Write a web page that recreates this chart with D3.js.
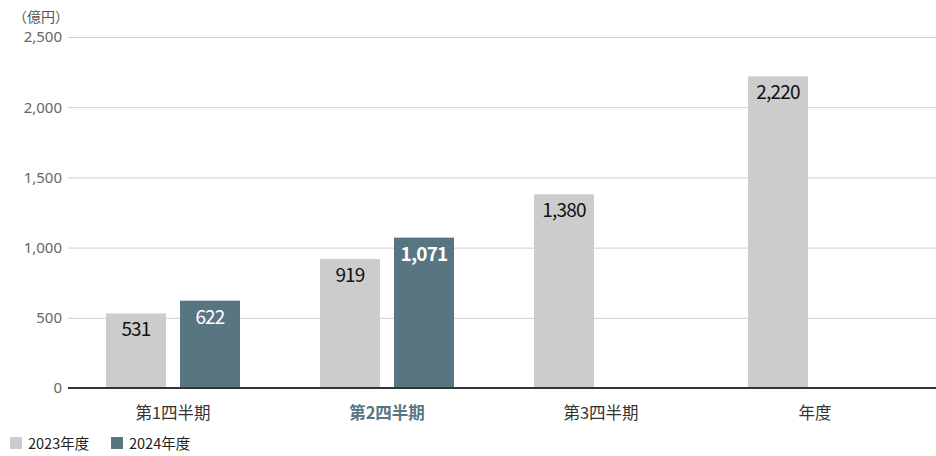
<!DOCTYPE html>
<html><head><meta charset="utf-8">
<script src="https://cdn.jsdelivr.net/npm/d3@7"></script>
<style>
html,body{margin:0;padding:0;background:#fff;}
svg{display:block;font-family:"Noto Sans CJK JP","Noto Sans",sans-serif;}
</style></head>
<body><svg id="c" width="936" height="456"></svg>
<script>
const categories = ["第1四半期","第2四半期","第3四半期","年度"];
const seriesNames = ["2023年度","2024年度"];
const values2023 = [531, 919, 1380, 2220];
const values2024 = [622, 1071, null, null];
const yTicks = [0, 500, 1000, 1500, 2000, 2500];
const highlightCategory = "第2四半期";
const colors = ["#cccccc", "#587582"];

const svg = d3.select("#c");
const x = d3.scaleBand().domain(categories).range([66, 922]).padding(0);
const xs = d3.scaleBand().domain(seriesNames).range([0, 134]).paddingInner(14/74);
const y = d3.scaleLinear().domain([0, 2500]).range([388, 37]);
const fmt = d3.format(",");

// grid
svg.append("g").selectAll("line").data(yTicks.filter(d=>d>0)).join("line")
  .attr("x1", 68).attr("x2", 936)
  .attr("y1", d=>y(d)+0.5).attr("y2", d=>y(d)+0.5)
  .attr("stroke", "#cfcfcf").attr("stroke-width", 1);

// y tick labels
svg.append("g").selectAll("text").data(yTicks).join("text")
  .attr("x", 62).attr("y", d=>y(d)).attr("dy", "0.36em")
  .attr("text-anchor", "end").attr("font-size", 15)
  .attr("font-family", "'Noto Sans', sans-serif").attr("fill", "#666")
  .text(d=>fmt(d));

svg.append("text").attr("x", 13).attr("y", 22).attr("font-size", 14).attr("fill", "#555").text("（億円）");

const series = [values2023, values2024];
series.forEach((vals, si) => {
  const g = svg.append("g");
  const data = categories.map((c,i)=>({c, v: vals[i]})).filter(d=>d.v!=null);
  g.selectAll("rect").data(data).join("rect")
    .attr("x", d=> x(d.c) + x.bandwidth()/2 - 67 + xs(seriesNames[si]))
    .attr("width", xs.bandwidth())
    .attr("y", d=>y(d.v))
    .attr("height", d=>y(0)-y(d.v))
    .attr("fill", colors[si]);
  g.selectAll("text").data(data).join("text")
    .attr("x", d=> x(d.c) + x.bandwidth()/2 - 67 + xs(seriesNames[si]) + xs.bandwidth()/2)
    .attr("y", d=>y(d.v) + 23)
    .attr("text-anchor", "middle")
    .attr("font-size", 19).attr("letter-spacing", -0.8)
    .attr("font-weight", d => (si===1 && d.c===highlightCategory) ? 700 : 400)
    .attr("fill", si===0 ? "#111" : "#fff")
    .text(d=>fmt(d.v));
});

// axis line
svg.append("line").attr("x1", 68).attr("x2", 936).attr("y1", 388).attr("y2", 388)
  .attr("stroke", "#333").attr("stroke-width", 2);

// category labels
svg.append("g").selectAll("text").data(categories).join("text")
  .attr("x", d=>x(d)+x.bandwidth()/2).attr("y", 419)
  .attr("text-anchor", "middle").attr("font-size", 16.5)
  .attr("font-weight", d=> d===highlightCategory ? 700 : 400)
  .attr("fill", d=> d===highlightCategory ? "#587582" : "#333")
  .text(d=>d);

// legend
const legX = [10, 111];
seriesNames.forEach((n,i)=>{
  svg.append("rect").attr("x", legX[i]).attr("y", 437).attr("width", 12).attr("height", 12).attr("fill", colors[i]);
  svg.append("text").attr("x", legX[i]+18).attr("y", 448.5).attr("font-size", 14.5).attr("fill", "#222").text(n);
});
</script></body></html>
